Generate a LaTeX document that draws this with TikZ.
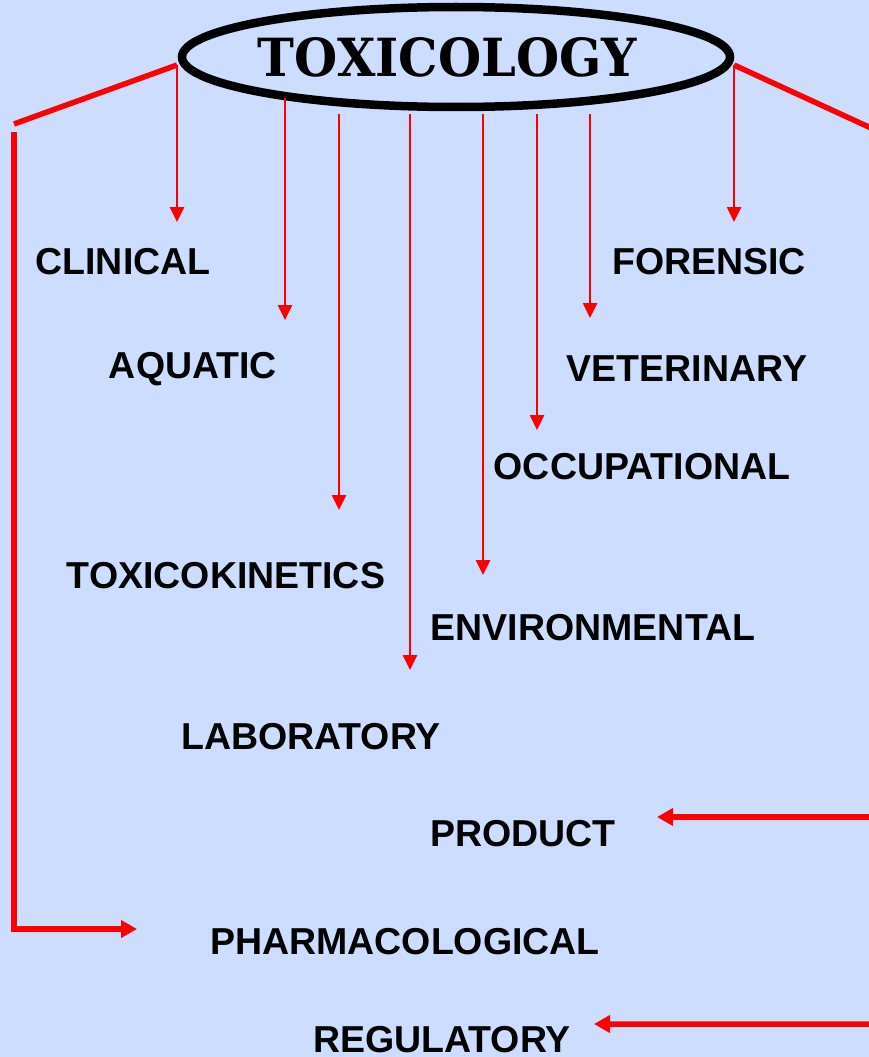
\documentclass[tikz,border=0pt]{standalone}
\usepackage{fontspec}
\setmainfont{Liberation Sans}
\newfontfamily\titlefont{DejaVu Serif}
\usetikzlibrary{arrows.meta,shapes.geometric}
\definecolor{slideblue}{RGB}{204,221,255}
\definecolor{linkred}{RGB}{255,0,0}

\begin{document}
\begin{tikzpicture}[x=1pt,y=-1pt,
  field/.style={font=\fontsize{37.5}{40}\selectfont\bfseries,inner sep=0pt},
  thinarrow/.style={draw=linkred,line width=2.6pt,-{Triangle[length=15pt,width=14pt]}},
  thickline/.style={draw=linkred,line width=5.5pt},
  thickarrow/.style={thickline,-{Triangle[length=16pt,width=17pt]}}]
\fill[slideblue] (0,0) rectangle (869,1057);
\useasboundingbox (0,0) rectangle (869,1057);
\clip (0,0) rectangle (869,1057);

% the title
\node[ellipse,draw=black,line width=8.5pt,minimum width=548pt,minimum height=100pt,inner sep=0pt]
  (tox) at (456,57) {\hspace*{-17pt}\resizebox{379pt}{39pt}{\titlefont\bfseries TOXICOLOGY}};

% the branches
\node[field] (clinical) at (123,262) {CLINICAL};
\node[field] (aquatic) at (193,369) {AQUATIC};
\node[field] (kinetics) at (226,576) {TOXICOKINETICS};
\node[field] (laboratory) at (311,737) {LABORATORY};
\node[field] (pharma) at (405,942) {PHARMACOLOGICAL};
\node[field] (regulatory) at (442,1040) {REGULATORY};
\node[field] (product) at (523,834) {PRODUCT};
\node[field] (environ) at (593,628) {ENVIRONMENTAL};
\node[field] (occup) at (642,467) {OCCUPATIONAL};
\node[field] (vet) at (687,369) {VETERINARY};
\node[field] (forensic) at (709,262) {FORENSIC};

% arrow ends
\coordinate (c1) at (177,65);  \coordinate (t1) at (177,222);
\coordinate (c2) at (285,98);  \coordinate (t2) at (285,320);
\coordinate (c3) at (339,114); \coordinate (t3) at (339,510);
\coordinate (c4) at (410,114); \coordinate (t4) at (410,670);
\coordinate (c5) at (483,114); \coordinate (t5) at (483,575);
\coordinate (c6) at (537,114); \coordinate (t6) at (537,430);
\coordinate (c7) at (590,114); \coordinate (t7) at (590,318);
\coordinate (c8) at (734,65);  \coordinate (t8) at (734,222);

\draw[thinarrow] (c1) -- (t1);
\draw[thinarrow] (c2) -- (t2);
\draw[thinarrow] (c3) -- (t3);
\draw[thinarrow] (c4) -- (t4);
\draw[thinarrow] (c5) -- (t5);
\draw[thinarrow] (c6) -- (t6);
\draw[thinarrow] (c7) -- (t7);
\draw[thinarrow] (c8) -- (t8);

% side links
\coordinate (lbend) at (14,124);
\coordinate (ltop) at (14,132);
\coordinate (lfoot) at (14,929);
\coordinate (ptip) at (137,929);
\draw[thickline] (c1) -- (lbend);
\draw[thickarrow] (ltop) -- (lfoot) -- (ptip);

\coordinate (rbend) at (884,134);
\coordinate (rprod) at (884,817);
\coordinate (rfoot) at (884,1024);
\coordinate (prtip) at (657,817);
\coordinate (rgtip) at (594,1024);
\draw[thickarrow] (c8) -- (rbend) -- (rfoot) -- (rgtip);
\draw[thickarrow] (rprod) -- (prtip);
\end{tikzpicture}
\end{document}
